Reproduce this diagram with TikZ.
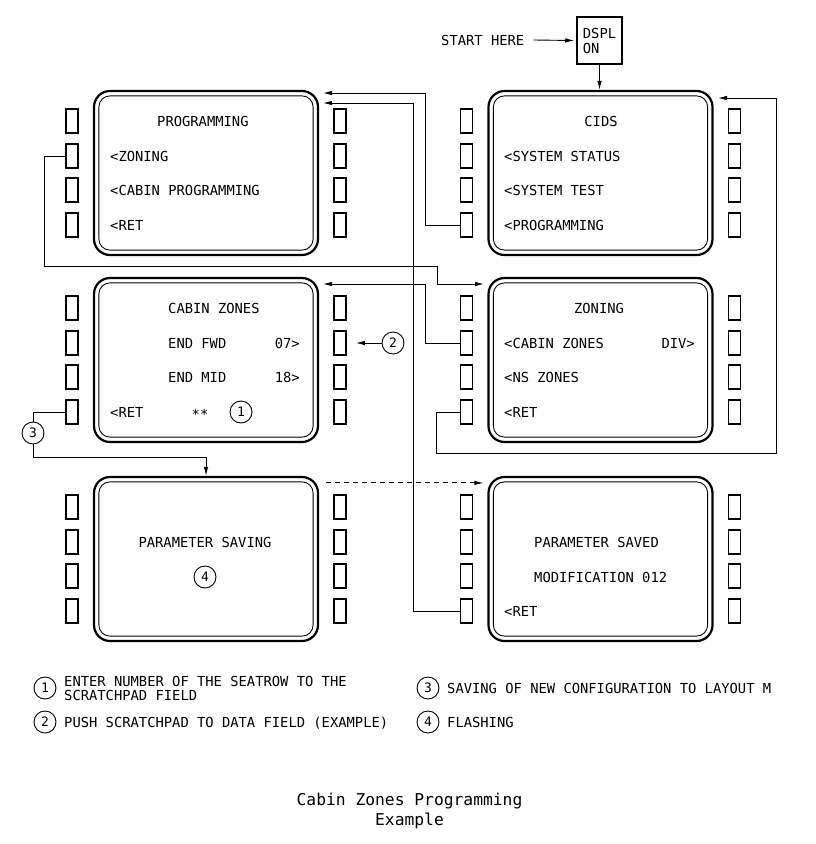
\documentclass[tikz,border=0pt]{standalone}
\usepackage{fontspec}
\newfontfamily\mcdufont{DejaVu Sans Mono}
\usetikzlibrary{arrows.meta}

\begin{document}
\begin{tikzpicture}[
    x=1pt, y=-1pt,
    every node/.style={font=\mcdufont\fontsize{13.8}{15}\selectfont, inner sep=0pt},
    screen/.style={draw, line width=2.2pt, rounded corners=16pt,
                   minimum width=224pt, minimum height=164pt},
    inframe/.style={line width=0.9pt, rounded corners=11pt},
    softkey/.style={draw, line width=1.6pt, minimum width=12pt, minimum height=24pt},
    row/.style={text height=10pt, text depth=0pt},
    num/.style={circle, draw, line width=0.9pt, minimum size=22pt,
                font=\mcdufont\fontsize{13}{13}\selectfont},
    conn/.style={line width=0.9pt, -{Latex[length=9pt,width=4.5pt]}}]

      \useasboundingbox (0,0) rectangle (816,844);

      % screens and keys
      \foreach \n/\x/\y in {prog/206/173, cids/600.5/173,
                            cabin/206/360, zoning/600.5/360,
                            saving/206/559, saved/600.5/559}{
        \node[screen] (\n) at (\x,\y) {};
        \draw[inframe] ([xshift=6pt,yshift=-6pt]\n.north west)
          rectangle ([xshift=-6pt,yshift=6pt]\n.south east);
        \foreach \k/\dy in {1/-52, 2/-17, 3/17, 4/52}{
          \node[softkey] (\n-l\k) at (\x-134,\y+\dy) {};
          \node[softkey] (\n-r\k) at (\x+134,\y+\dy) {};
        }
      }

      % start
      \node[anchor=west, row] (start) at (441,40) {START HERE};
      \node[draw, line width=1.5pt, minimum width=45pt, minimum height=47pt,
            align=left, font=\mcdufont\fontsize{13.8}{15}\selectfont] (dspl) at (599.5,40.5) {DSPL\\ON};
      \draw[conn] ([xshift=9pt]start.east) -- ([xshift=-2pt]dspl.west);
      \draw[conn] (dspl.south) -- (dspl.south |- cids.north);

      % programming
      {\fontsize{13.8}{15}
      \node[row, anchor=west] (prog-t) at (157,121) {PROGRAMMING};
      \node[row, anchor=west] (prog-a) at (110,156) {<ZONING};
      \node[row, anchor=west] (prog-b) at (110,190) {<CABIN PROGRAMMING};
      \node[row, anchor=west] (prog-c) at (110,225) {<RET};
      }

      % cids
      \node[row] (cids-t) at (601,121) {CIDS};
      \node[row, anchor=west] (cids-a) at (504,156) {<SYSTEM STATUS};
      \node[row, anchor=west] (cids-b) at (504,190) {<SYSTEM TEST};
      \node[row, anchor=west] (cids-c) at (504,225) {<PROGRAMMING};

      % cabin zones
      \node[row, anchor=west] (cabin-t) at (168,308) {CABIN ZONES};
      \node[row, anchor=west] (cabin-a) at (168,343) {END FWD};
      \node[row, anchor=east] (cabin-av) at (300,343) {07>};
      \node[row, anchor=west] (cabin-b) at (168,377) {END MID};
      \node[row, anchor=east] (cabin-bv) at (300,377) {18>};
      \node[row, anchor=west] (cabin-c) at (110,412) {<RET};
      \node[row] (cabin-s) at (200,414) {**};
      \node[num] (c1) at (241,412) {1};

      % zoning
      \node[row] (zoning-t) at (599,308) {ZONING};
      \node[row, anchor=west] (zoning-a) at (504,343) {<CABIN ZONES};
      \node[row, anchor=east] (zoning-av) at (695,343) {DIV>};
      \node[row, anchor=west] (zoning-b) at (504,377) {<NS ZONES};
      \node[row, anchor=west] (zoning-c) at (504,412) {<RET};

      % parameter saving
      \node[row] (saving-t) at (205,542) {PARAMETER SAVING};
      \node[num] (c4) at (205,577) {4};

      % parameter saved
      \node[row, anchor=west] (saved-t) at (534,542) {PARAMETER SAVED};
      \node[row, anchor=west] (saved-a) at (534,577) {MODIFICATION 012};
      \node[row, anchor=west] (saved-c) at (504,611) {<RET};

      % arrow targets
      \coordinate (prog-in1) at (323,93);
      \coordinate (prog-in2) at (323,103);
      \coordinate (cids-in) at (718,98);
      \coordinate (cabin-in) at (323,284);
      \coordinate (zoning-in) at (484,284);

      \draw[conn] (cids-l4.west) -- ++(-34,0) |- (prog-in1);
      \draw[conn] (saved-l4.west) -- ++(-46,0) |- (prog-in2);
      \draw[conn] (prog-l2.west) -- ++(-21,0) |- (437,266) |- (zoning-in);
      \draw[conn] (zoning-l2.west) -- ++(-34,0) |- (cabin-in);
      \draw[conn] (zoning-l4.west) -- ++(-23,0) |- (776,453) |- (cids-in);

      \node[num] (c3) at (33,433) {3};
      \draw (cabin-l4.west) -| (c3.north);
      \draw[conn] (c3.south) -- ++(0,13) -| (saving.north);

      \node[num] (c2) at (393,343) {2};
      \draw[conn] (c2.west) -- ([xshift=9pt]cabin-r2.east);

      \draw[conn, dashed, dash pattern=on 5pt off 4pt]
        ([xshift=7pt,yshift=-7pt]saving.north east) -- ([xshift=-4pt,yshift=-7pt]saved.north west);

      % legend
      {\fontsize{13.8}{14}
      \node[num] (k1) at (45,688) {1};
      \node[anchor=west, align=left, font=\mcdufont\fontsize{13.8}{14}\selectfont] (k1-t) at (64,688)
        {ENTER NUMBER OF THE SEATROW TO THE\\SCRATCHPAD FIELD};
      \node[num] (k2) at (45,722) {2};
      \node[row, anchor=west] (k2-t) at (64,722) {PUSH SCRATCHPAD TO DATA FIELD (EXAMPLE)};
      \node[num] (k3) at (428,688) {3};
      \node[row, anchor=west] (k3-t) at (447,688) {SAVING OF NEW CONFIGURATION TO LAYOUT M};
      \node[num] (k4) at (428,722) {4};
      \node[row, anchor=west] (k4-t) at (447,722) {FLASHING};
      }

      % title
      \node[align=center, font=\mcdufont\fontsize{16.3}{20}\selectfont] (title) at (409.5,811)
        {Cabin Zones Programming\\Example};

    \end{tikzpicture}
\end{document}
